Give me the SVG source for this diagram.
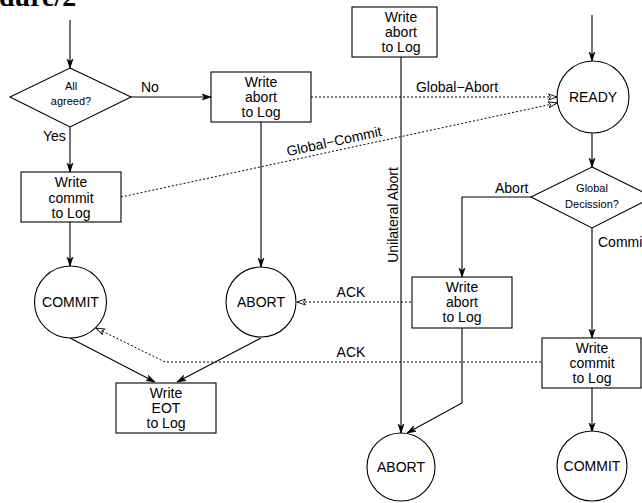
<svg xmlns="http://www.w3.org/2000/svg" width="642" height="503" viewBox="0 0 642 503">
<defs>
<style>
.n{fill:#fff;stroke:#000;stroke-width:1.1}
.t{font-family:"Liberation Sans",Arial,sans-serif;font-size:14px;fill:#000;text-anchor:middle}
.s{font-size:11px}
.l{font-family:"Liberation Sans",Arial,sans-serif;font-size:14px;fill:#000}
.c{fill:none;stroke:#000;stroke-width:1.1}
.d{fill:none;stroke:#000;stroke-width:1;stroke-dasharray:2 2}
.solid{marker-end:url(#a)}
.dot{marker-end:url(#h)}
</style>
<marker id="a" markerUnits="userSpaceOnUse" markerWidth="10" markerHeight="8" refX="9" refY="4" orient="auto">
<path d="M0,1 L9,4 L0,7 L2.5,4 Z" fill="#000" stroke="#000" stroke-width="0.6"/>
</marker>
<marker id="h" markerUnits="userSpaceOnUse" markerWidth="10" markerHeight="8" refX="9" refY="4" orient="auto">
<path d="M0.5,1 L9,4 L0.5,7 L2.5,4 Z" fill="#fff" stroke="#000" stroke-width="0.9"/>
</marker>
</defs>
<text x="-1" y="6" style="font-family:'Liberation Serif','Times New Roman',serif;font-size:28px;font-weight:bold">dure/2</text>
<g id="connectors">
<path class="c solid" d="M70,20 L70,68"/>
<path class="c solid" d="M131,97 L211,97"/>
<path class="c solid" d="M70,127 L70,172"/>
<path class="c solid" d="M70,222 L70,266"/>
<path class="c solid" d="M261,122 L261,267"/>
<path class="c solid" d="M70,338 L155,382"/>
<path class="c solid" d="M261,338 L177,382"/>
<path class="d dot" d="M311,97 L557,97"/>
<path class="d dot" d="M121,197 L557,103"/>
<path class="c solid" d="M592,15 L592,61"/>
<path class="c solid" d="M592,133 L592,167"/>
<path class="c solid" d="M531,197 L462,197 L462,277"/>
<path class="c solid" d="M592,228 L592,338"/>
<path class="c solid" d="M592,388 L592,432"/>
<path class="c solid" d="M401,57 L401,433"/>
<path class="c solid" d="M462,328 L462,403 L407,433"/>
<path class="d dot" d="M411,302 L297,302"/>
<path class="d dot" d="M541,362 L165,362 L96,328"/>
<text class="l" x="141" y="92">No</text>
<text class="l" x="43" y="141">Yes</text>
<text class="t" x="457" y="92">Global−Abort</text>
<text class="t" x="335" y="146" transform="rotate(-12.2 335 146)">Global−Commit</text>
<text class="t" x="398" y="215" transform="rotate(-90 398 215)">Unilateral Abort</text>
<text class="l" x="495" y="193">Abort</text>
<text class="l" x="598" y="247">Commit</text>
<text class="t" x="351" y="297">ACK</text>
<text class="t" x="351" y="357">ACK</text>
</g>
<g id="agreed">
<polygon class="n" points="70,68 131,97 70,127 10,97"/>
<text class="t s" x="71" y="90">All</text>
<text class="t s" x="71" y="105">agreed?</text>
</g>
<g id="abortLog1">
<rect class="n" x="211" y="72" width="100" height="50"/>
<text class="t" x="261" y="87">Write</text>
<text class="t" x="261" y="102">abort</text>
<text class="t" x="261" y="117">to Log</text>
</g>
<g id="commitLog1">
<rect class="n" x="21" y="172" width="100" height="50"/>
<text class="t" x="71" y="187">Write</text>
<text class="t" x="71" y="203">commit</text>
<text class="t" x="71" y="218">to Log</text>
</g>
<g id="commit1">
<circle class="n" cx="70.5" cy="302" r="36"/>
<text class="t" x="70.5" y="307">COMMIT</text>
</g>
<g id="abort1">
<circle class="n" cx="261" cy="302" r="35"/>
<text class="t" x="261" y="307">ABORT</text>
</g>
<g id="eot">
<rect class="n" x="116" y="383" width="100" height="50"/>
<text class="t" x="166" y="398">Write</text>
<text class="t" x="166" y="413">EOT</text>
<text class="t" x="166" y="428">to Log</text>
</g>
<g id="abortLogTop">
<rect class="n" x="352" y="7" width="85" height="50"/>
<text class="t" x="401" y="22">Write</text>
<text class="t" x="401" y="37">abort</text>
<text class="t" x="401" y="52">to Log</text>
</g>
<g id="ready">
<circle class="n" cx="593" cy="97" r="36"/>
<text class="t" x="593" y="102">READY</text>
</g>
<g id="decision">
<polygon class="n" points="592,167 653,197 592,228 531,197"/>
<text class="t s" x="592" y="192">Global</text>
<text class="t s" x="592" y="208">Decission?</text>
</g>
<g id="abortLog2">
<rect class="n" x="412" y="277" width="100" height="51"/>
<text class="t" x="462" y="292">Write</text>
<text class="t" x="462" y="307">abort</text>
<text class="t" x="462" y="322">to Log</text>
</g>
<g id="commitLog2">
<rect class="n" x="542" y="338" width="99" height="50"/>
<text class="t" x="592" y="353">Write</text>
<text class="t" x="592" y="368">commit</text>
<text class="t" x="592" y="383">to Log</text>
</g>
<g id="abort2">
<circle class="n" cx="401" cy="467" r="34"/>
<text class="t" x="401" y="472">ABORT</text>
</g>
<g id="commit2">
<circle class="n" cx="592" cy="466" r="35"/>
<text class="t" x="592" y="471">COMMIT</text>
</g>
</svg>
